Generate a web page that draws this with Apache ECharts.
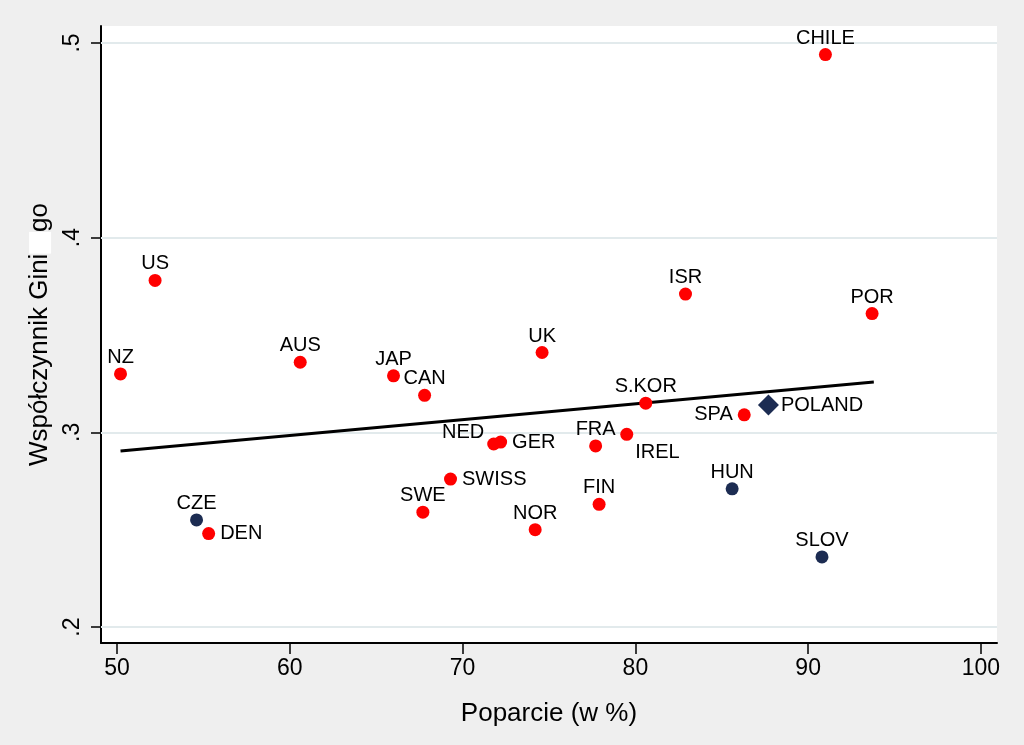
<!DOCTYPE html>
<html>
<head>
<meta charset="utf-8">
<script src="https://cdn.jsdelivr.net/npm/echarts@6/dist/echarts.min.js"></script>
<style>
html,body{margin:0;padding:0;background:#efefef;}
#c{width:1024px;height:745px;}
</style>
</head>
<body>
<div id="c"></div>
<script>
// ---- data ----
const oecdNames = ['NZ','US','AUS','JAP','CAN','UK','ISR','CHILE','POR','S.KOR','SPA','NED','GER','FRA','IREL','SWISS','SWE','NOR','FIN','DEN'];
const oecdSupport = [50.2, 52.2, 60.6, 66.0, 67.8, 74.6, 82.9, 91.0, 93.7, 80.6, 86.3, 71.8, 72.2, 77.7, 79.5, 69.3, 67.7, 74.2, 77.9, 55.3];
const oecdGini = [0.330, 0.378, 0.336, 0.329, 0.319, 0.341, 0.371, 0.494, 0.361, 0.315, 0.309, 0.294, 0.295, 0.293, 0.299, 0.276, 0.259, 0.250, 0.263, 0.248];

const ceeNames = ['CZE','HUN','SLOV'];
const ceeSupport = [54.6, 85.6, 90.8];
const ceeGini = [0.255, 0.271, 0.236];

const polandName = 'POLAND';
const polandSupport = 87.7;
const polandGini = 0.314;

const fitX = [50.2, 93.8];
const fitY = [0.2904, 0.3259];

const xTicks = [50, 60, 70, 80, 90, 100];
const yTicks = [0.2, 0.3, 0.4, 0.5];
const yTickLabels = ['.2', '.3', '.4', '.5'];

// ---- label placement (layout only) ----
const placement = {
  'GER': {position: 'right', distance: 5},
  'SWISS': {position: 'right', distance: 5},
  'DEN': {position: 'right', distance: 5},
  'SPA': {position: 'left', distance: 5},
  'NED': {position: 'left', distance: 3, offset: [0, -12]},
  'IREL': {position: 'right', distance: 2, offset: [0, 18]},
  'POLAND': {position: 'right', distance: 2}
};

const FONT = '"Liberation Sans", Arial, sans-serif';

function makePoints(names, xs, ys) {
  return names.map((n, i) => {
    const p = placement[n] || {position: 'top', distance: 0};
    const lab = {show: true, formatter: n, position: p.position, distance: p.distance};
    if (p.offset) lab.offset = p.offset;
    return {value: [xs[i], ys[i]], label: lab};
  });
}

const chart = echarts.init(document.getElementById('c'), null, {renderer: 'canvas'});

const labelStyle = {color: '#000', fontSize: 20, fontFamily: FONT};

chart.setOption({
  animation: false,
  backgroundColor: '#efefef',
  grid: {left: 101, right: 27, top: 26, bottom: 102, show: true, backgroundColor: '#ffffff', borderWidth: 0},
  xAxis: {
    type: 'value', min: 49.07, max: 100.93,
    name: 'Poparcie (w %)', nameLocation: 'middle', nameGap: 58,
    nameTextStyle: {fontSize: 26, fontFamily: FONT, color: '#000'},
    axisLine: {show: true, onZero: false, lineStyle: {color: '#000', width: 2}},
    axisTick: {show: true, length: 11, customValues: xTicks, lineStyle: {color: '#000', width: 1.5}},
    axisLabel: {customValues: xTicks, fontSize: 23, fontFamily: FONT, color: '#000', margin: 14},
    splitLine: {show: false}
  },
  yAxis: {
    type: 'value', min: 0.1918, max: 0.5087,
    name: 'Współczynnik Gini{b|   }go', nameLocation: 'middle', nameGap: 43,
    nameTextStyle: {fontSize: 26, fontFamily: FONT, color: '#000',
      rich: {b: {backgroundColor: '#ffffff', fontSize: 26, height: 22}}},
    axisLine: {show: true, onZero: false, lineStyle: {color: '#000', width: 2}},
    axisTick: {show: true, length: 10, customValues: yTicks, lineStyle: {color: '#000', width: 1.5}},
    axisLabel: {customValues: yTicks, rotate: 90, fontSize: 23, fontFamily: FONT, color: '#000', margin: 17,
      formatter: v => { const i = yTicks.findIndex(t => Math.abs(t - v) < 1e-6); return i >= 0 ? yTickLabels[i] : ''; }},
    splitLine: {show: false}
  },
  series: [
    {
      type: 'line', data: fitX.map((x, i) => [x, fitY[i]]), symbol: 'none', z: 3,
      lineStyle: {color: '#000', width: 3},
      markLine: {
        silent: true, symbol: 'none', z: 1, animation: false,
        label: {show: false},
        lineStyle: {color: '#e2eaec', width: 2, type: 'solid'},
        data: yTicks.map(v => ({yAxis: v}))
      }
    },
    {
      type: 'scatter', data: makePoints(oecdNames, oecdSupport, oecdGini),
      symbol: 'circle', symbolSize: 13, z: 4,
      itemStyle: {color: '#ff0000', opacity: 1},
      label: labelStyle
    },
    {
      type: 'scatter', data: makePoints(ceeNames, ceeSupport, ceeGini),
      symbol: 'circle', symbolSize: 13, z: 4,
      itemStyle: {color: '#1c2c52', opacity: 1},
      label: labelStyle
    },
    {
      type: 'scatter', data: makePoints([polandName], [polandSupport], [polandGini]),
      symbol: 'diamond', symbolSize: [21, 21], z: 4,
      itemStyle: {color: '#1c2c52', opacity: 1},
      label: labelStyle
    }
  ]
});
</script>
</body>
</html>
